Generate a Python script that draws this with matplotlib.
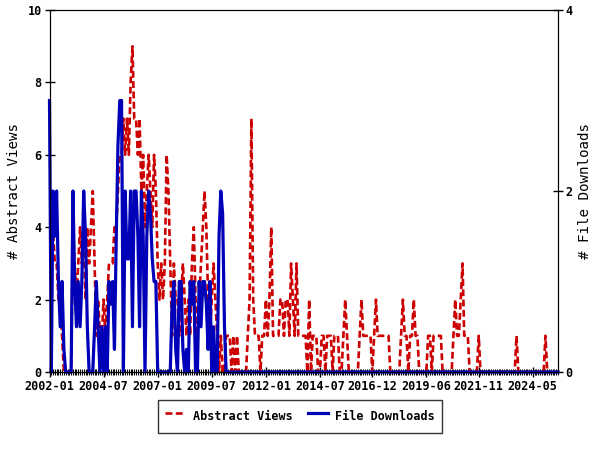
import matplotlib
matplotlib.use("Agg")
import matplotlib.pyplot as plt
import matplotlib.dates as mdates
import numpy as np
import pandas as pd

start_month = "2002-01-01"
end_month = "2025-07-01"

abstract_views = (
    [4, 4, 4, 3, 3, 2, 2, 1, 0, 0, 0, 0] +      # 2002
    [0, 4, 3, 2, 3, 4, 3, 4, 2, 4, 3, 4] +      # 2003
    [5, 3, 1, 2, 1, 1, 2, 1, 2, 3, 3, 3] +      # 2004
    [4, 4, 5, 6, 6, 7, 6, 7, 6, 8, 9, 7] +      # 2005
    [7, 6, 7, 5, 6, 4, 5, 6, 5, 4, 6, 5] +      # 2006
    [3, 2, 3, 2, 3, 6, 5, 3, 1, 3, 2, 2] +      # 2007
    [1, 2, 3, 2, 1, 2, 1, 3, 4, 2, 1, 2] +      # 2008
    [3, 4, 5, 4, 2, 1, 2, 3, 2, 1, 0, 1] +      # 2009
    [0, 0, 1, 1, 1, 0, 1, 0, 1, 0, 0, 0] +      # 2010
    [0, 0, 1, 2, 7, 2, 1, 1, 1, 0, 1, 1] +      # 2011
    [2, 1, 2, 4, 1, 1, 1, 1, 2, 2, 1, 2] +      # 2012
    [2, 1, 3, 2, 1, 3, 1, 1, 1, 1, 1, 0] +      # 2013
    [2, 0, 1, 1, 1, 0, 0, 1, 1, 0, 1, 1] +      # 2014
    [1, 0, 1, 1, 1, 0, 0, 1, 2, 1, 0, 0] +      # 2015
    [0, 0, 0, 0, 1, 2, 1, 1, 1, 1, 1, 0] +      # 2016
    [1, 2, 1, 1, 1, 1, 1, 1, 1, 0, 0, 0] +      # 2017
    [0, 0, 0, 1, 2, 1, 1, 0, 1, 1, 2, 1] +      # 2018
    [1, 0, 0, 0, 0, 0, 1, 1, 0, 1, 1, 1] +      # 2019
    [1, 1, 0, 0, 0, 0, 0, 0, 1, 2, 1, 1] +      # 2020
    [2, 3, 1, 1, 1, 0, 0, 0, 0, 0, 1, 0] +      # 2021
    [0, 0, 0, 0, 0, 0, 0, 0, 0, 0, 0, 0] +      # 2022
    [0, 0, 0, 0, 0, 0, 0, 1, 0, 0, 0, 0] +      # 2023
    [0, 0, 0, 0, 0, 0, 0, 0, 0, 0, 0, 1] +      # 2024
    [0, 0, 0, 0, 0, 0, 0]                       # 2025
)

file_downloads = (
    [3, 0, 2, 1.5, 2, 1, 0.5, 1, 0.25, 0, 0, 0] +            # 2002
    [0, 2, 1, 0.5, 1, 0.5, 1, 2, 1.5, 0.5, 0, 0] +           # 2003
    [0, 0.5, 1, 0.5, 0, 0.5, 0, 0.5, 0, 1, 0.75, 1] +        # 2004
    [0.25, 1.5, 2.5, 3, 3, 0, 2, 1.25, 1.25, 2, 0.5, 2] +    # 2005
    [2, 1.5, 0.5, 2, 1.5, 0, 1.5, 2, 1.75, 1.25, 1, 1] +     # 2006
    [0, 0, 0, 0, 0, 0, 0, 0, 0.75, 1, 0.25, 0] +             # 2007
    [1, 1, 0.25, 0, 0.25, 0, 1, 0.75, 1, 0, 0, 1] +          # 2008
    [0.5, 1, 1, 0.75, 0.25, 1, 0, 0.5, 0, 0, 1.5, 2] +       # 2009
    [1.75, 0.5, 0, 0, 0, 0, 0, 0, 0, 0, 0, 0] +              # 2010
    [0] * 12 * 15 +                                          # 2011-2025
    [0] * 7
)
file_downloads = file_downloads[:len(abstract_views)]

tick_labels = ["2002-01", "2004-07", "2007-01", "2009-07", "2012-01",
               "2014-07", "2016-12", "2019-06", "2021-11", "2024-05"]

months = pd.date_range(start_month, periods=len(abstract_views), freq="MS")

RED = "#cc0000"
BLUE = "#0000b8"
FONT = "DejaVu Sans Mono"

fig = plt.figure(figsize=(6, 4.5), dpi=100)
ax = fig.add_axes([0.0825, 0.1733, 0.8475, 0.8044])
ax2 = ax.twinx()

l1, = ax.plot(months, abstract_views, color=RED, lw=1.9, ls=(0, (2.6, 1.3)),
              label="Abstract Views", clip_on=False)
l2, = ax2.plot(months, file_downloads, color=BLUE, lw=2.3,
               label="File Downloads", clip_on=False)

ax.set_xlim(pd.Timestamp(start_month), pd.Timestamp(end_month))
ax.set_ylim(0, 10)
ax2.set_ylim(0, 4)
ax.set_yticks([0, 2, 4, 6, 8, 10])
ax2.set_yticks([0, 2, 4])

ax.set_xticks([pd.Timestamp(t + "-01") for t in tick_labels])
ax.set_xticklabels(tick_labels)
ax.xaxis.set_minor_locator(mdates.MonthLocator())

for a in (ax, ax2):
    a.tick_params(axis="both", which="major", direction="inout", length=7,
                  width=1, pad=2)
    for lab in a.get_xticklabels() + a.get_yticklabels():
        lab.set_fontfamily(FONT)
        lab.set_fontweight("bold")
        lab.set_fontsize(8.5)
ax.tick_params(axis="x", which="minor", direction="inout", length=4, width=0.8)
ax.tick_params(axis="x", which="major", pad=2)

ax.set_ylabel("# Abstract Views", fontfamily=FONT, fontsize=10.2, labelpad=5)
ax2.set_ylabel("# File Downloads", fontfamily=FONT, fontsize=10.2, labelpad=4)

leg = fig.legend(handles=[l1, l2], loc="center", bbox_to_anchor=(0.5, 0.074),
                 ncol=2, frameon=True, fancybox=False, edgecolor="black",
                 borderpad=0.55, handleheight=2.3, columnspacing=1.3,
                 handlelength=1.75, handletextpad=0.6,
                 prop={"family": FONT, "weight": "bold", "size": 8.5})
leg.get_frame().set_linewidth(1.0)

fig.savefig("out.png", dpi=100)
